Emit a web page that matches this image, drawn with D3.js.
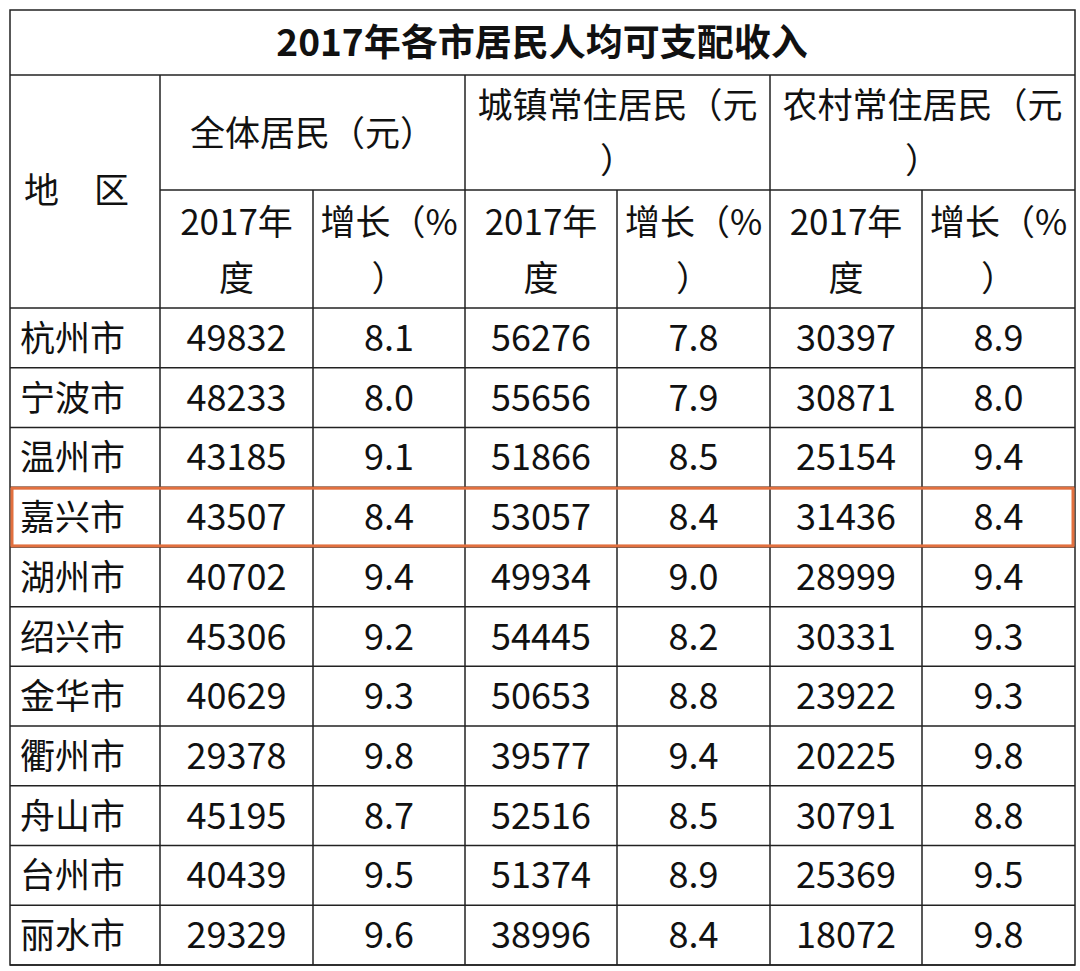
<!DOCTYPE html>
<html><head><meta charset="utf-8">
<script src="https://cdn.jsdelivr.net/npm/d3@7"></script>
<style>body{margin:0;background:#fff}</style></head>
<body><svg id="c" width="1080" height="971"></svg>
<script>
const title = "2017年各市居民人均可支配收入";
const cities = ["杭州市","宁波市","温州市","嘉兴市","湖州市","绍兴市","金华市","衢州市","舟山市","台州市","丽水市"];
const allIncome = ["49832","48233","43185","43507","40702","45306","40629","29378","45195","40439","29329"];
const allGrowth = ["8.1","8.0","9.1","8.4","9.4","9.2","9.3","9.8","8.7","9.5","9.6"];
const urbanIncome = ["56276","55656","51866","53057","49934","54445","50653","39577","52516","51374","38996"];
const urbanGrowth = ["7.8","7.9","8.5","8.4","9.0","8.2","8.8","9.4","8.5","8.9","8.4"];
const ruralIncome = ["30397","30871","25154","31436","28999","30331","23922","20225","30791","25369","18072"];
const ruralGrowth = ["8.9","8.0","9.4","8.4","9.4","9.3","9.3","9.8","8.8","9.5","9.8"];
const groupHeaders = [["全体居民（元）"],["城镇常住居民（元","）"],["农村常住居民（元","）"]];
const subHeaders = [["2017年","度"],["增长（%","）"]];
const highlightCity = "嘉兴市";

const svg = d3.select("#c");
const font = "'Noto Sans CJK SC','Noto Sans',sans-serif";
const colX = [10,160,313,465,617,770,922,1075];
const titleBot = 75, grpBot = 190, headBot = 308, bottom = 965;
const y = d3.scaleBand().domain(cities).range([headBot, bottom]);
const cols = [allIncome,allGrowth,urbanIncome,urbanGrowth,ruralIncome,ruralGrowth];
const g = svg.append("g").attr("font-family", font).attr("fill","#111");
const line = (x1,y1,x2,y2)=>g.append("line").attr("x1",x1).attr("y1",y1).attr("x2",x2).attr("y2",y2).attr("stroke","#222").attr("stroke-width",1.5);

g.append("rect").attr("x",10).attr("y",10).attr("width",1065).attr("height",bottom-10).attr("fill","none").attr("stroke","#222").attr("stroke-width",1.5);
line(10,titleBot,1075,titleBot);
line(160,grpBot,1075,grpBot);
line(10,headBot,1075,headBot);
cities.forEach(c=>line(10,y(c)+y.bandwidth(),1075,y(c)+y.bandwidth()));
[160,465,770].forEach(x=>line(x,titleBot,x,bottom));
[313,617,922].forEach(x=>line(x,grpBot,x,bottom));

g.append("text").attr("x",542).attr("y",56).attr("text-anchor","middle").attr("font-size",37).attr("font-weight","bold").text(title);
g.append("text").attr("x",24).attr("y",203).attr("font-size",35).text("地　区");
groupHeaders.forEach((lines,i)=>{
  const cx=(colX[1+2*i]+colX[3+2*i])/2;
  if(lines.length===1) g.append("text").attr("x",cx).attr("y",146).attr("text-anchor","middle").attr("font-size",35).text(lines[0]);
  else lines.forEach((t,j)=>g.append("text").attr("x",cx).attr("y",118+j*55).attr("text-anchor","middle").attr("font-size",35).text(t));
});
for(let k=0;k<6;k++){
  const cx=(colX[1+k]+colX[2+k])/2;
  subHeaders[k%2].forEach((t,j)=>g.append("text").attr("x",cx).attr("y",235+j*56).attr("text-anchor","middle").attr("font-size",35).text(t));
}
cities.forEach((c,i)=>{
  const cy=y(c)+y.bandwidth()/2+13;
  g.append("text").attr("x",20).attr("y",cy).attr("font-size",35).text(c);
  cols.forEach((arr,k)=>{
    g.append("text").attr("x",(colX[1+k]+colX[2+k])/2).attr("y",cy).attr("text-anchor","middle").attr("font-size",36).text(arr[i]);
  });
});
svg.append("rect").attr("x",12).attr("y",y(highlightCity)+1).attr("width",1061).attr("height",y.bandwidth()-2)
  .attr("fill","none").attr("stroke","#e2703f").attr("stroke-width",3);
</script></body></html>
